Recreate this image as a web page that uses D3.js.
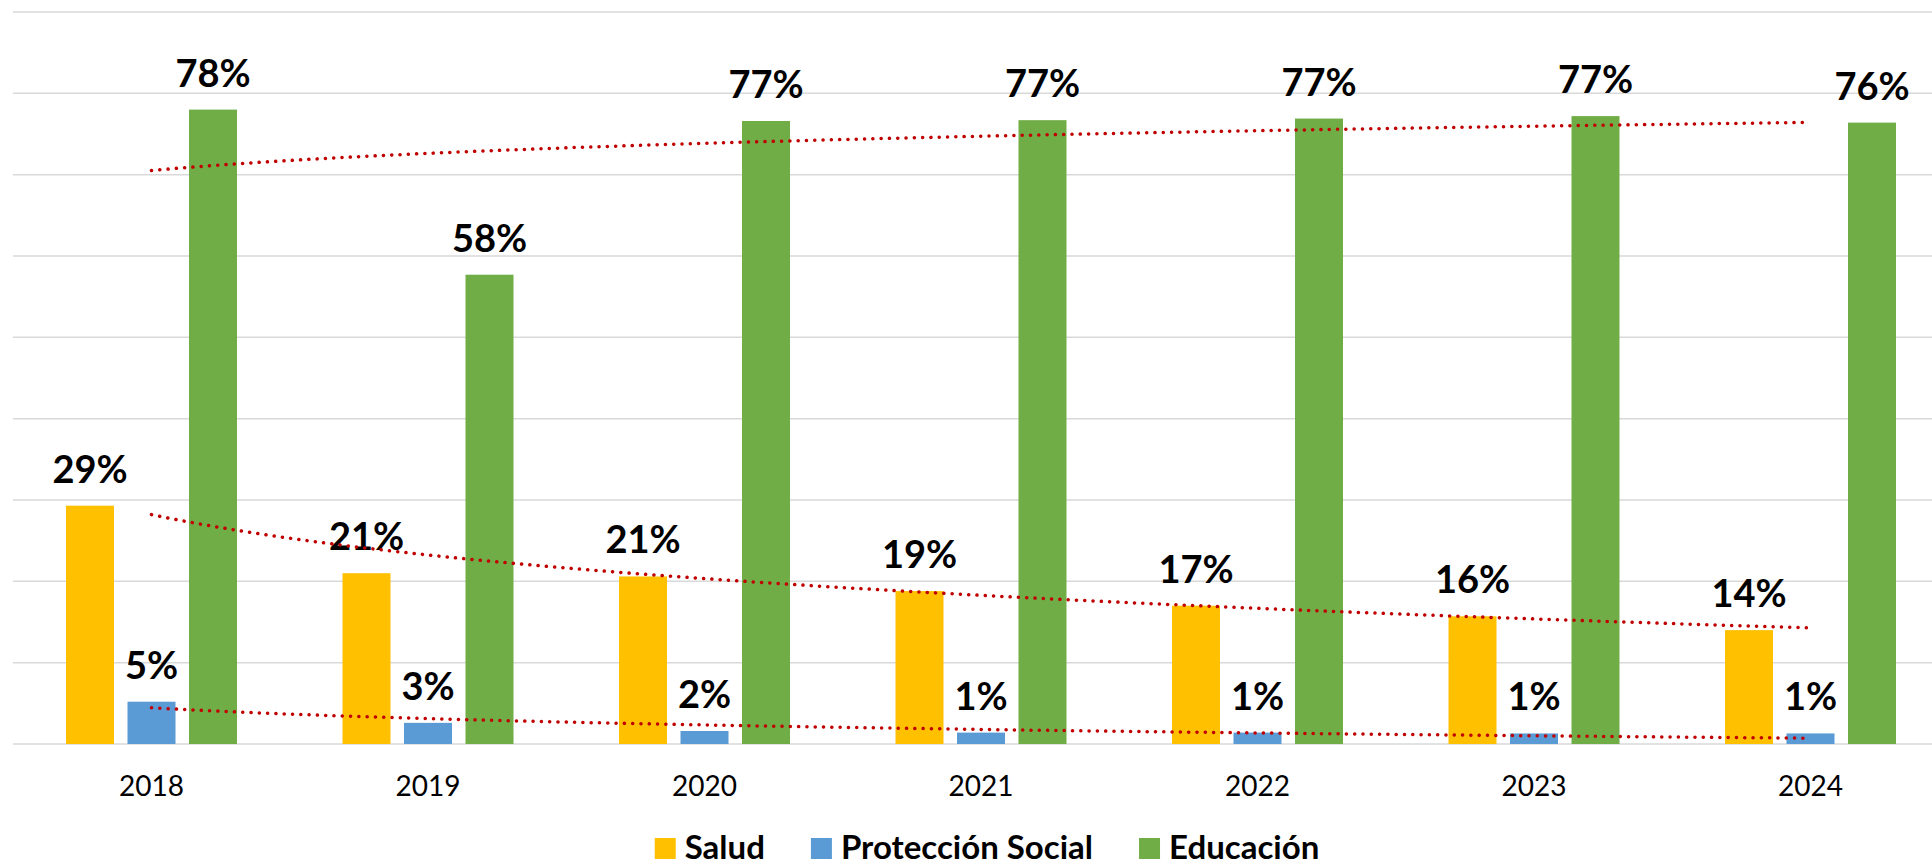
<!DOCTYPE html>
<html>
<head>
<meta charset="utf-8">
<script src="https://cdn.jsdelivr.net/npm/d3@7"></script>
<style>
  body { margin: 0; background: #fff; }
  svg { display: block; }
  .grid line { stroke: #d9d9d9; stroke-width: 1.5; }
  .val { font: bold 38px Lato, sans-serif; fill: #000; }
  .year { font: 28px Lato, sans-serif; fill: #000; }
  .leg { font: bold 33px Lato, sans-serif; fill: #000; }
</style>
</head>
<body>
<script>
// data (percent)
const years = ['2018', '2019', '2020', '2021', '2022', '2023', '2024']
const seriesNames = ['Salud', 'Protección Social', 'Educación']
const salud = [29.3, 21.0, 20.6, 18.8, 17.0, 15.7, 14.0]
const proteccion = [5.2, 2.6, 1.6, 1.4, 1.4, 1.3, 1.3]
const educacion = [78.0, 57.7, 76.6, 76.7, 76.9, 77.2, 76.4]
const yTicks = [0, 10, 20, 30, 40, 50, 60, 70, 80, 90]
const colors = ['#FFC000', '#5B9BD5', '#70AD47']

const W = 1932, H = 865
const seriesData = [salud, proteccion, educacion]

const svg = d3.select('body').append('svg')
  .attr('width', W).attr('height', H)

const x0 = d3.scaleBand().domain(years).range([13.25, 1948.75])
const groupW = 171
const x1 = d3.scaleBand().domain(seriesNames)
  .range([(x0.bandwidth() - groupW) / 2, (x0.bandwidth() + groupW) / 2])
  .paddingInner(0.2195)
const y = d3.scaleLinear().domain([0, 90]).range([744, 12])

// gridlines
svg.append('g').attr('class', 'grid')
  .selectAll('line').data(yTicks).enter().append('line')
  .attr('x1', 13).attr('x2', W)
  .attr('y1', d => y(d)).attr('y2', d => y(d))

// bars + labels
seriesNames.forEach((name, si) => {
  const g = svg.append('g')
  g.selectAll('rect').data(seriesData[si]).enter().append('rect')
    .attr('x', (d, i) => x0(years[i]) + x1(name))
    .attr('width', x1.bandwidth())
    .attr('y', d => y(d))
    .attr('height', d => y(0) - y(d))
    .attr('fill', colors[si])
  g.selectAll('text').data(seriesData[si]).enter().append('text')
    .attr('class', 'val')
    .attr('text-anchor', 'middle')
    .attr('x', (d, i) => x0(years[i]) + x1(name) + x1.bandwidth() / 2)
    .attr('y', d => y(d) - 23)
    .text(d => Math.round(d) + '%')
})

// logarithmic trendlines (least squares on ln x)
const xc = d3.scaleLinear().domain([1, years.length])
  .range([x0(years[0]) + x0.bandwidth() / 2, x0(years[years.length - 1]) + x0.bandwidth() / 2])
function logFit(vals) {
  const lx = vals.map((v, i) => Math.log(i + 1))
  const mx = d3.mean(lx), my = d3.mean(vals)
  let sxy = 0, sxx = 0
  vals.forEach((v, i) => { sxy += (lx[i] - mx) * (v - my); sxx += (lx[i] - mx) ** 2 })
  const b = sxy / sxx
  return t => (my - b * mx) + b * Math.log(t)
}
const line = d3.line().x(d => xc(d[0])).y(d => y(d[1]))
seriesData.forEach(vals => {
  const f = logFit(vals)
  const pts = d3.range(1, years.length + 0.001, 0.05).map(t => [t, f(t)])
  svg.append('path')
    .attr('d', line(pts))
    .attr('fill', 'none')
    .attr('stroke', '#C00000')
    .attr('stroke-width', 3.5)
    .attr('stroke-linecap', 'round')
    .attr('stroke-dasharray', '0.1 8.2')
})

// x axis labels
svg.append('g').selectAll('text').data(years).enter().append('text')
  .attr('class', 'year')
  .attr('text-anchor', 'middle')
  .attr('x', d => x0(d) + x0.bandwidth() / 2)
  .attr('y', 796)
  .text(d => d)

// legend
const leg = svg.append('g')
let lx = 0
seriesNames.forEach((name, i) => {
  const item = leg.append('g').attr('transform', `translate(${lx},0)`)
  item.append('rect').attr('x', 0).attr('y', 838).attr('width', 21).attr('height', 21)
    .attr('fill', colors[i])
  const t = item.append('text').attr('class', 'leg')
    .attr('x', 30).attr('y', 859).text(name)
  lx += 30 + t.node().getComputedTextLength() + 46
})
const legW = lx - 46
leg.attr('transform', `translate(${987 - legW / 2},0)`)
</script>
</body>
</html>
